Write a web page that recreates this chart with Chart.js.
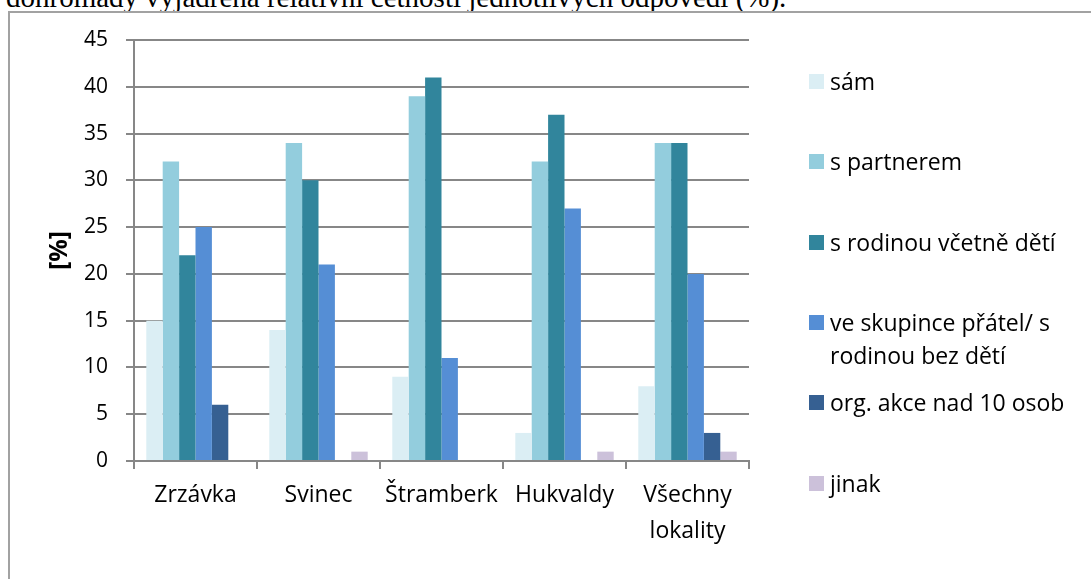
<!DOCTYPE html>
<html>
<head>
<meta charset="utf-8">
<script src="https://cdn.jsdelivr.net/npm/chart.js@4"></script>
<style>
  html, body { margin: 0; padding: 0; background: #fff; overflow: hidden; }
  #page { position: relative; width: 1091px; height: 579px; overflow: hidden; }
  #caption {
    position: absolute; left: 6px; top: -17px; white-space: nowrap;
    font-family: 'Liberation Serif', 'Times New Roman', serif; font-size: 29px; line-height: 29px; color: #000;
  }
  #frame {
    position: absolute; left: 8px; top: 11px; width: 1100px; height: 600px;
    border: 2px solid #a2a2a2; box-sizing: border-box;
  }
  #chart { position: absolute; left: 0; top: 0; }
  #legend { position: absolute; left: 809px; top: 0; width: 280px; font-family: 'Open Sans', sans-serif; font-size: 23px; color: #000; }
  .lg-item { position: absolute; left: 0; width: 280px; }
  .lg-box { position: absolute; left: 0; top: 9px; width: 15px; height: 15px; }
  .lg-text { position: absolute; left: 21px; top: 0; width: 262px; line-height: 33px; }
</style>
</head>
<body>
<div id="page">
  <div id="caption">dohromady vyjádřená relativní četností jednotlivých odpovědí (%).</div>
  <div id="frame"></div>
  <canvas id="chart" width="1091" height="579"></canvas>
  <div id="legend"></div>
</div>
<script>
// Data
const categories = ['Zrzávka', 'Svinec', 'Štramberk', 'Hukvaldy', ['Všechny', 'lokality']];
const seriesNames = ['sám', 's partnerem', 's rodinou včetně dětí', 've skupince přátel/ s rodinou bez dětí', 'org. akce nad 10 osob', 'jinak'];
const samValues = [15, 14, 9, 3, 8];
const partnerValues = [32, 34, 39, 32, 34];
const rodinaValues = [22, 30, 41, 37, 34];
const skupinaValues = [25, 21, 11, 27, 20];
const akceValues = [6, 0, 0, 0, 3];
const jinakValues = [0, 1, 0, 1, 1];
const seriesColors = ['#dbeef4', '#93cddd', '#31859c', '#558ed5', '#366092', '#ccc1da'];

const FONT = "'Open Sans', sans-serif";
const GRID = '#878787';

const allValues = [samValues, partnerValues, rodinaValues, skupinaValues, akceValues, jinakValues];

const chart = new Chart(document.getElementById('chart'), {
  type: 'bar',
  data: {
    labels: categories,
    datasets: allValues.map((vals, i) => ({
      label: seriesNames[i],
      data: vals,
      backgroundColor: seriesColors[i],
      borderWidth: 0,
      categoryPercentage: 0.8,
      barPercentage: 1.0
    }))
  },
  options: {
    responsive: false,
    animation: false,
    layout: { padding: { left: 0, top: 40, right: 342, bottom: 0 } },
    plugins: {
      legend: { display: false },
      tooltip: { enabled: false }
    },
    scales: {
      x: {
        offset: true,
        grid: { drawOnChartArea: false, drawTicks: true, tickLength: 8, color: GRID, lineWidth: 2, offset: true },
        border: { color: GRID, width: 2 },
        ticks: {
          color: '#000',
          font: { family: FONT, size: 23, lineHeight: 1.55 },
          padding: 9,
          maxRotation: 0,
          autoSkip: false
        },
        afterFit: function(scale) { scale.height = 118; }
      },
      y: {
        min: 0,
        max: 45,
        ticks: {
          stepSize: 5,
          color: '#000',
          font: { family: FONT, size: 21 },
          padding: 18
        },
        grid: { color: GRID, lineWidth: 2, tickLength: 8 },
        border: { color: GRID, width: 2 },
        title: {
          display: true,
          text: '[%]',
          color: '#000',
          font: { family: FONT, size: 25, weight: 'bold' },
          padding: { top: 45, bottom: 0 }
        },
        afterFit: function(scale) { scale.width = 134; }
      }
    }
  }
});

// HTML legend built from the chart's datasets
const legend = document.getElementById('legend');
chart.data.datasets.forEach((ds, i) => {
  const item = document.createElement('div');
  item.className = 'lg-item';
  item.style.top = (65 + i * 80.3) + 'px';
  item.innerHTML = '<div class="lg-box" style="background:' + ds.backgroundColor + '"></div>' +
    '<div class="lg-text">' + ds.label + '</div>';
  legend.appendChild(item);
});
</script>
</body>
</html>
